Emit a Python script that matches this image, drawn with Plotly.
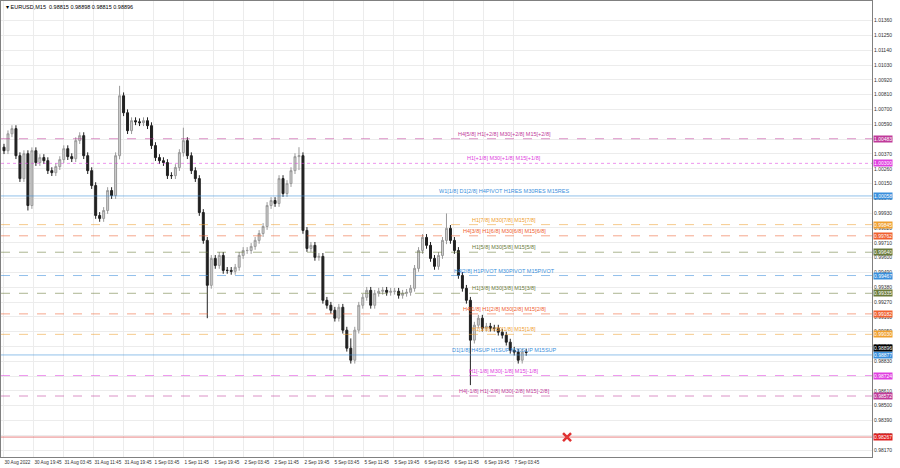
import plotly.graph_objects as go

bar_x = list(range(0, 528, 4))
closes = [1.00394, 1.00520, 1.00558, 1.00357, 1.00187, 1.00372, 0.99987, 1.00394, 1.00306, 1.00343,
          1.00320, 1.00246, 1.00231, 1.00276, 1.00328, 1.00409, 1.00350, 1.00335, 1.00469, 1.00506,
          1.00357, 1.00246, 1.00135, 0.99913, 0.99891, 0.99950, 1.00098, 1.00061, 1.00357, 1.00802,
          1.00676, 1.00543, 1.00617, 1.00609, 1.00602, 1.00617, 1.00580, 1.00432, 1.00343, 1.00320,
          1.00306, 1.00209, 1.00209, 1.00269, 1.00380, 1.00469, 1.00357, 1.00246, 1.00187, 0.99935,
          0.99728, 0.99394, 0.99594, 0.99542, 0.99616, 0.99505, 0.99505, 0.99498, 0.99528, 0.99616,
          0.99653, 0.99653, 0.99683, 0.99728, 0.99779, 0.99831, 0.99987, 1.00024, 1.00002, 1.00187,
          1.00076, 1.00150, 1.00246, 1.00350, 1.00357, 0.99802, 0.99668, 0.99691, 0.99602, 0.99609,
          0.99283, 0.99246, 0.99209, 0.99150, 0.99231, 0.99061, 0.98927, 0.98838, 0.99061, 0.99246,
          0.99305, 0.99357, 0.99246, 0.99335, 0.99350, 0.99357, 0.99342, 0.99350, 0.99350, 0.99320,
          0.99335, 0.99342, 0.99372, 0.99520, 0.99653, 0.99750, 0.99691, 0.99594, 0.99535, 0.99616,
          0.99728, 0.99817, 0.99728, 0.99653, 0.99468, 0.99372, 0.99283, 0.98987, 0.99098, 0.99150,
          0.99076, 0.99090, 0.99076, 0.99076, 0.99046, 0.99024, 0.98972, 0.98912, 0.98898, 0.98838,
          0.98898, 0.98896]
first_open = 1.00420
# notable wicks: bar index -> (high, low)
spikes = {116: (1.00876, 1.00330), 204: (0.99700, 0.99150), 348: (0.99000, 0.98816),
          444: (0.99928, 0.99700), 468: (0.99300, 0.98653), 180: (1.00565, 1.00350),
          24: (1.00300, 0.99950), 296: (1.00420, 1.00250)}

level_prices = [1.00483, 1.00300, 1.00058, 0.99845, 0.99762, 0.99640, 0.99467, 0.99335,
                0.99182, 0.99030, 0.98877, 0.98724, 0.98572]
level_names = ["H4[5/8] H1[+2/8] M30[+2/8] M15[+2/8]", "H1[+1/8] M30[+1/8] M15[+1/8]",
               "W1[1/8] D1[2/8] H4PIVOT H1RES M30RES M15RES", "H1[7/8] M30[7/8] M15[7/8]",
               "H4[3/8] H1[6/8] M30[6/8] M15[6/8]", "H1[5/8] M30[5/8] M15[5/8]",
               "H4[2/8] H1PIVOT M30PIVOT M15PIVOT", "H1[3/8] M30[3/8] M15[3/8]",
               "H4[1/8] H1[2/8] M30[2/8] M15[2/8]", "H1[1/8] M30[1/8] M15[1/8]",
               "D1[1/8] H4SUP H1SUP M30SUP M15SUP", "H1[-1/8] M30[-1/8] M15[-1/8]",
               "H4[-1/8] H1[-2/8] M30[-2/8] M15[-2/8]"]
level_colors = ["#c03a9a", "#e040e0", "#3a8fdc", "#f0a030", "#f06030", "#6a7a3a", "#3a8fdc",
                "#6a7a3a", "#f06030", "#f0a030", "#3a8fdc", "#e040e0", "#c03a9a"]
level_dash = ["dash", "dot", "solid", "dash", "dash", "dash", "dash",
              "dash", "dash", "dash", "solid", "dash", "dash"]
stop_price = 0.98267
last_price = 0.98896

date_labels = ["30 Aug 2022", "30 Aug 19:45", "31 Aug 03:45", "31 Aug 11:45", "31 Aug 19:45",
               "1 Sep 03:45", "1 Sep 11:45", "1 Sep 19:45", "2 Sep 03:45", "2 Sep 11:45",
               "2 Sep 19:45", "5 Sep 03:45", "5 Sep 11:45", "5 Sep 19:45", "6 Sep 03:45",
               "6 Sep 11:45", "6 Sep 19:45", "7 Sep 03:45"]
date_pos = [i * 30.1 for i in range(len(date_labels))]
price_ticks = [round(1.01360 - 0.0011 * i, 5) for i in range(30)]

opens = [first_open] + closes[:-1]
highs, lows = [], []
for x, o, c in zip(bar_x, opens, closes):
    h, l = max(o, c) + 0.00025, min(o, c) - 0.00025
    if x in spikes:
        h, l = max(h, spikes[x][0]), min(l, spikes[x][1])
    highs.append(h)
    lows.append(l)

fig = go.Figure()
for p, c, d in zip(level_prices, level_colors, level_dash):
    fig.add_shape(type="line", xref="paper", x0=0, x1=1, y0=p, y1=p,
                  line=dict(color=c, width=1, dash=d), opacity=0.55)
fig.add_shape(type="line", xref="paper", x0=0, x1=1, y0=stop_price, y1=stop_price,
              line=dict(color="#e05050", width=1), opacity=0.7)

fig.add_trace(go.Candlestick(
    x=bar_x, open=opens, high=highs, low=lows, close=closes,
    increasing=dict(line=dict(color="#9a9a9a", width=1), fillcolor="#d0d0d0"),
    decreasing=dict(line=dict(color="#202020", width=1), fillcolor="#202020"),
    whiskerwidth=0, showlegend=False))

fig.add_trace(go.Scatter(x=[565], y=[stop_price], mode="markers", showlegend=False,
                         marker=dict(symbol="x-thin", size=8, line=dict(color="#e03030", width=2.5))))

for p, n, c in zip(level_prices, level_names, level_colors):
    fig.add_annotation(x=502, y=p, text=n, showarrow=False, yshift=5,
                       font=dict(size=5.5, color=c))
    fig.add_annotation(xref="paper", x=1.0, y=p, text=f"{p:.5f}", showarrow=False, xanchor="left",
                       xshift=1, bgcolor=c, font=dict(size=5, color="white"), borderpad=0)
fig.add_annotation(xref="paper", x=1.0, y=stop_price, text=f"{stop_price:.5f}", showarrow=False,
                   xanchor="left", xshift=1, bgcolor="#e02020", font=dict(size=5, color="white"),
                   borderpad=0)
fig.add_annotation(xref="paper", x=1.0, y=last_price, text=f"{last_price:.5f}", showarrow=False,
                   xanchor="left", xshift=1, yshift=4, bgcolor="#000000",
                   font=dict(size=5, color="white"), borderpad=0)
fig.add_annotation(xref="paper", yref="paper", x=0.003, y=0.998, xanchor="left", yanchor="top",
                   text="▾ EURUSD,M15  0.98815 0.98898 0.98815 0.98896", showarrow=False,
                   font=dict(size=5.5, color="#000000"))

fig.update_layout(
    width=900, height=468, margin=dict(l=1, r=28, t=1, b=11, autoexpand=False),
    paper_bgcolor="white", plot_bgcolor="white",
    font=dict(family="Liberation Sans", size=5, color="#303030"),
    xaxis=dict(range=[-3, 871], tickvals=date_pos, ticktext=date_labels, tickangle=0,
               ticklabelposition="outside right", ticks="", showgrid=True, gridcolor="#ececec",
               rangeslider=dict(visible=False), showline=True, linecolor="#808080", mirror=True,
               zeroline=False, automargin=False, tickfont=dict(size=4.6)),
    yaxis=dict(side="right", range=[0.98119, 1.01506], tickvals=price_ticks,
               tickformat=".5f", showgrid=True, gridcolor="#ececec", showline=True,
               linecolor="#808080", mirror=True, zeroline=False, automargin=False,
               tickfont=dict(size=5)),
)

fig.write_html("out.html", config={"displayModeBar": False},
               post_script="document.body.style.margin='0';")
